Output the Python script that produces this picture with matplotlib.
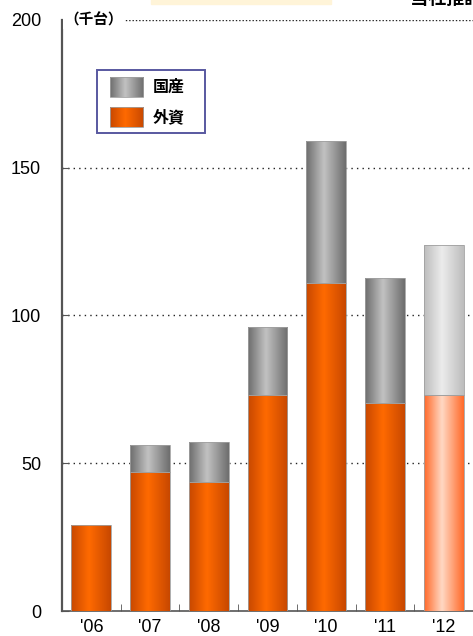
import matplotlib
matplotlib.use("Agg")
import matplotlib.pyplot as plt
import numpy as np
from matplotlib.colors import LinearSegmentedColormap
from matplotlib.patches import Rectangle

plt.rcParams["font.family"] = ["Liberation Sans", "Noto Sans CJK JP", "DejaVu Sans"]

years = ["'06", "'07", "'08", "'09", "'10", "'11", "'12"]
foreign = [29, 47, 43.5, 73, 111, 70.5, 73]      # 外資
domestic = [0, 9.3, 13.7, 23, 48, 42.2, 51]      # 国産
forecast = [False] * 6 + [True]
legend_labels = ["国産", "外資"]

ORANGE = ("#c84800", "#ff6a00")
GRAY = ("#6e6e6e", "#c2c2c2")
ORANGE_L = ("#ff6a2a", "#ffd9c4")
GRAY_L = ("#bdbdbd", "#ececec")


def grad_cmap(edge, center):
    return LinearSegmentedColormap.from_list(
        "g", [(0, edge), (0.45, center), (1, edge)])


def shade(ax, x0, y0, w, h, cols, transform=None, z=3):
    if h <= 0:
        return
    tr = transform if transform is not None else ax.transData
    rect = Rectangle((x0, y0), w, h, transform=tr, facecolor="none",
                     edgecolor="#a0a0a0", linewidth=0.6, zorder=z + 1)
    ax.add_patch(rect)
    g = np.linspace(0, 1, 64).reshape(1, -1)
    im = ax.imshow(g, cmap=grad_cmap(*cols), aspect="auto",
                   extent=(x0, x0 + w, y0, y0 + h), zorder=z,
                   interpolation="bicubic", transform=tr)
    im.set_clip_path(rect)


fig = plt.figure(figsize=(4.73, 6.36), dpi=100)
ax = fig.add_axes([0.131, 0.0393, 0.869, 0.9293])

x = np.arange(len(years))
w = 0.68
b1 = ax.bar(x, foreign, w, color=ORANGE[1], linewidth=0, zorder=2)
b2 = ax.bar(x, domestic, w, bottom=foreign, color=GRAY[1], linewidth=0,
            zorder=2)
for i in range(len(years)):
    for p, cols in ((b1[i], ORANGE_L if forecast[i] else ORANGE),
                    (b2[i], GRAY_L if forecast[i] else GRAY)):
        shade(ax, p.get_x(), p.get_y(), p.get_width(), p.get_height(), cols)

ax.set_xlim(-0.5, len(years) - 0.5)
ax.set_ylim(0, 200)
ax.set_yticks([0, 50, 100, 150, 200])
ax.set_xticks(x)
ax.set_xticklabels(years, fontsize=13)
ax.set_xticks(np.arange(0.5, len(years) - 0.5, 1), minor=True)
ax.tick_params(axis="x", which="major", length=0, pad=6)
ax.tick_params(axis="x", which="minor", direction="in", length=5,
               color="#555555")
ax.tick_params(axis="y", direction="in", length=5, color="#555555",
               pad=15, labelsize=13)

for yv in [50, 100, 150]:
    ax.axhline(yv, color="#222222", linestyle=(0, (1, 3)), linewidth=1.0,
               zorder=1)
ax.axhline(200, color="#222222", linestyle=(0, (1, 1.4)), linewidth=1.0,
           zorder=1)

for s in ("top", "right"):
    ax.spines[s].set_visible(False)
ax.spines["left"].set_color("#555555")
ax.spines["left"].set_linewidth(1.6)
ax.spines["bottom"].set_color("#555555")
ax.spines["bottom"].set_linewidth(1.2)

ax.text(0.005, 200, "（千台）", transform=ax.get_yaxis_transform(),
        va="center", ha="left", fontsize=10.5, fontweight="bold",
        family=["Noto Sans CJK JP"],
        bbox=dict(facecolor="white", edgecolor="none", pad=1), zorder=5)

# legend drawn by hand (axes fraction coords)
ax.add_patch(Rectangle((0.0852, 0.8088), 0.2627, 0.1066,
                       transform=ax.transAxes, facecolor="white",
                       edgecolor="#5858a0", linewidth=1.4, zorder=6))
for (yb, cols), lab in zip([(0.8697, GRAY), (0.8190, ORANGE)], legend_labels):
    shade(ax, 0.1168, yb, 0.0803, 0.0339, cols, transform=ax.transAxes, z=7)
    ax.text(0.2220, yb + 0.017, lab, transform=ax.transAxes, va="center",
            ha="left", fontsize=11.5, fontweight="bold",
            family=["Noto Sans CJK JP"], zorder=8)

fig.patches.append(Rectangle((0.32, 0.993), 0.38, 0.01, color="#fff4d8",
                             transform=fig.transFigure, figure=fig))
fig.text(0.83, 1.002, "・当社推計", ha="left", va="center", fontsize=13,
         fontweight="bold", family=["Noto Sans CJK JP"])

fig.savefig("out.png", dpi=100)
